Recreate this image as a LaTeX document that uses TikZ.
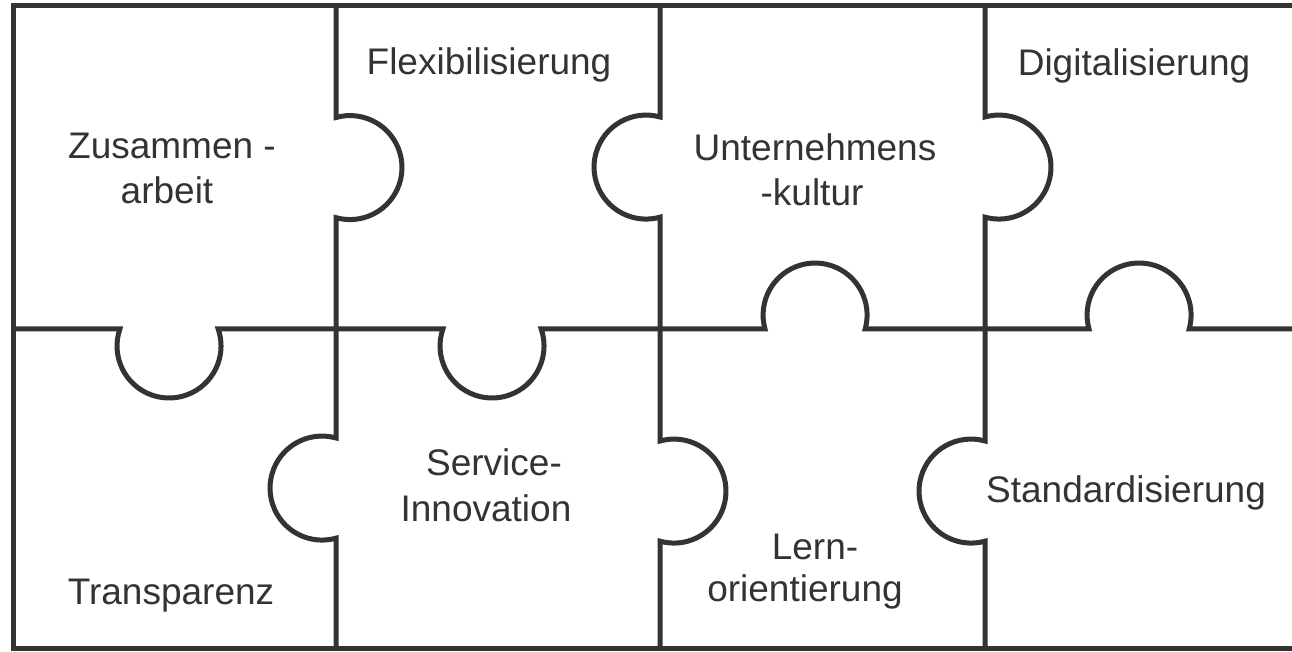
\documentclass[tikz,border=0pt]{standalone}
\usepackage{fontspec}
\setmainfont{Liberation Sans}
\definecolor{ink}{HTML}{333333}
\begin{document}
\begin{tikzpicture}[x=1pt,y=1pt,
  edge/.style={draw=ink,line width=5pt,line join=miter},
  lbl/.style={anchor=base,inner sep=0pt,text=ink,font=\fontsize{37}{45}\selectfont}]
\useasboundingbox (0,0) rectangle (1292,652);
% outer frame (open on the right)
\draw[edge] (1292,646) -- (13,646) -- (13,3) -- (1292,3);
% vertical dividers with knobs
\draw[edge] (336,646) -- (336,534.5) arc[start angle=105.6,end angle=-105.6,radius=52]
  -- (336,214) arc[start angle=74.4,end angle=285.6,radius=52] -- (336,3);
\draw[edge] (660,646) -- (660,535) arc[start angle=74.4,end angle=285.6,radius=52]
  -- (660,211) arc[start angle=105.6,end angle=-105.6,radius=52] -- (660,3);
\draw[edge] (985,646) -- (985,535) arc[start angle=105.6,end angle=-105.6,radius=52]
  -- (985,211) arc[start angle=74.4,end angle=285.6,radius=52] -- (985,3);
% horizontal divider with knobs
\draw[edge] (13,323) -- (119.9,323) arc[start angle=160.9,end angle=379.1,radius=52]
  -- (442.9,323) arc[start angle=160.9,end angle=379.1,radius=52]
  -- (765,323) arc[start angle=195.6,end angle=-15.6,radius=52]
  -- (1089,323) arc[start angle=195.6,end angle=-15.6,radius=52] -- (1292,323);
% labels
\node[lbl] (zus1) at (172,493) {Zusammen -};
\node[lbl] (zus2) at (167,448) {arbeit};
\node[lbl] (flex) at (489,577) {Flexibilisierung};
\node[lbl] (unt1) at (815,491) {Unternehmens};
\node[lbl] (unt2) at (812,446) {-kultur};
\node[lbl] (dig) at (1134,576) {Digitalisierung};
\node[lbl] (trans) at (171,47) {Transparenz};
\node[lbl] (serv1) at (494,176) {Service-};
\node[lbl] (serv2) at (486,130) {Innovation};
\node[lbl] (lern1) at (815,92) {Lern-};
\node[lbl] (lern2) at (805,50) {orientierung};
\node[lbl] (std) at (1126,149) {Standardisierung};
\end{tikzpicture}
\end{document}
